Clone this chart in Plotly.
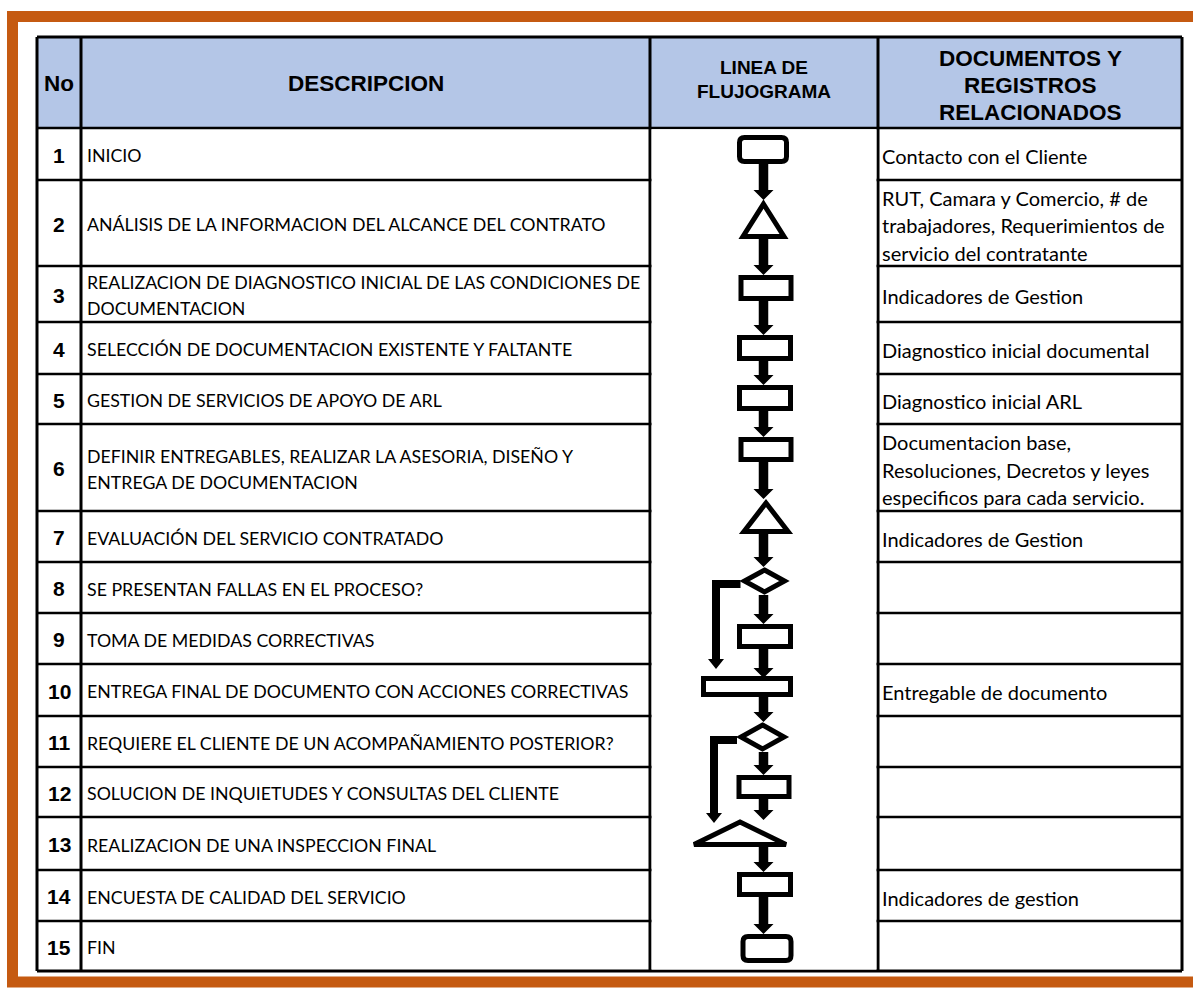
import plotly.graph_objects as go

# ---------------- DATA ----------------
step_numbers = [str(i) for i in range(1, 16)]

descriptions = [
    "INICIO",
    "ANÁLISIS DE LA INFORMACION DEL ALCANCE DEL CONTRATO",
    "REALIZACION DE DIAGNOSTICO INICIAL DE LAS CONDICIONES DE<br>DOCUMENTACION",
    "SELECCIÓN DE DOCUMENTACION EXISTENTE Y FALTANTE",
    "GESTION DE SERVICIOS DE APOYO DE ARL",
    "DEFINIR ENTREGABLES, REALIZAR LA ASESORIA, DISEÑO Y<br>ENTREGA DE DOCUMENTACION",
    "EVALUACIÓN DEL SERVICIO CONTRATADO",
    "SE PRESENTAN FALLAS EN EL PROCESO?",
    "TOMA DE MEDIDAS CORRECTIVAS",
    "ENTREGA FINAL DE DOCUMENTO CON ACCIONES CORRECTIVAS",
    "REQUIERE EL CLIENTE DE UN ACOMPAÑAMIENTO POSTERIOR?",
    "SOLUCION DE INQUIETUDES Y CONSULTAS DEL CLIENTE",
    "REALIZACION DE UNA INSPECCION FINAL",
    "ENCUESTA DE CALIDAD DEL SERVICIO",
    "FIN",
]

documents = [
    "Contacto con el Cliente",
    "RUT, Camara y Comercio, # de<br>trabajadores, Requerimientos de<br>servicio del contratante",
    "Indicadores de Gestion",
    "Diagnostico inicial documental",
    "Diagnostico inicial ARL",
    "Documentacion base,<br>Resoluciones, Decretos y leyes<br>especificos para cada servicio.",
    "Indicadores de Gestion",
    "",
    "",
    "Entregable de documento",
    "",
    "",
    "",
    "Indicadores de gestion",
    "",
]

flow_symbols = [
    "terminal", "triangle", "process", "process", "process", "process",
    "triangle", "decision", "process", "process", "decision", "process",
    "triangle", "process", "terminal",
]

# feedback loops: (from decision step, to step)
feedback_loops = [(8, 10), (11, 13)]

headers = ["No", "DESCRIPCION", "LINEA DE<br>FLUJOGRAMA",
           "DOCUMENTOS Y<br>REGISTROS<br>RELACIONADOS"]

# ---------------- LAYOUT (pixel geometry) ----------------
W, H = 1193, 992
col_edges = [37, 81, 650, 878, 1182]
table_top = 37
header_h = 91
row_heights = [52, 86, 56, 52, 50, 87, 51, 51, 51, 52, 51, 50, 53, 51, 50]

# flow symbol geometry per step: (top offset in row, height, width, center x)
node_geom = [
    (7, 29, 52, 763),
    (20, 39, 47, 763.5),
    (9, 26, 55, 766),
    (13, 26, 56, 765),
    (11, 26, 56, 765),
    (13, 25, 55, 766),
    (-12, 35, 50, 766),
    (5, 28, 46, 764.5),
    (11, 25, 56, 765),
    (12, 21, 92, 747),
    (6, 30, 49, 762.5),
    (8, 24, 55, 764),
    (1, 29, 98, 740),
    (2, 25, 56, 765),
    (13, 29, 53, 767),
]
arrow_x = 763.5
loop_x = [716, 714]
loop_bar_h = 8

ORANGE = "#C55A11"
HEADER_BG = "#B4C6E7"
BODY_FONT = "Lato"
HEAD_FONT = "Liberation Sans"

# header text styles: (font size, center y, line spacing)
head_style = [(22.5, 83.5, 27), (22.5, 83.5, 27), (19, 79, 24), (22.5, 85, 27)]
desc_size, desc_lh = 17.75, 26
docs_size, docs_lh = 20, 27.5
num_size = 21

# ---------------- BUILD ----------------
row_tops = []
y = table_top + header_h
for h in row_heights:
    row_tops.append(y)
    y += h
table_bottom = y

shapes = []
annotations = []


def add_lines(text, x, cy, lh, font, xanchor, bold=False):
    lines = text.split("<br>")
    n = len(lines)
    for j, ln in enumerate(lines):
        yy = cy + (j - (n - 1) / 2) * lh
        annotations.append(dict(x=x, y=yy, text=("<b>%s</b>" % ln) if bold else ln,
                                showarrow=False, xanchor=xanchor, yanchor="middle",
                                align=xanchor if xanchor != "center" else "center",
                                font=font))


# orange frame
shapes.append(dict(type="rect", x0=12.5, x1=1250, y0=16.5, y1=982,
                   line=dict(color=ORANGE, width=11), fillcolor="white",
                   layer="below"))

# header background
shapes.append(dict(type="rect", x0=col_edges[0], x1=col_edges[-1],
                   y0=table_top, y1=table_top + header_h,
                   line=dict(width=0), fillcolor=HEADER_BG, layer="below"))

# horizontal grid lines
h_lines = [table_top, table_top + header_h] + [t + h for t, h in zip(row_tops, row_heights)]
for yy in h_lines:
    shapes.append(dict(type="line", x0=col_edges[0], x1=col_edges[-1], y0=yy, y1=yy,
                       line=dict(color="black", width=3 if yy in (table_top, table_bottom) else 2.5)))
# vertical lines
for xx in col_edges:
    shapes.append(dict(type="line", x0=xx, x1=xx, y0=table_top, y1=table_bottom,
                       line=dict(color="black", width=3)))

# the flow column has no row separators -> white cover
shapes.append(dict(type="rect", x0=col_edges[2] + 1.6, x1=col_edges[3] - 1.6,
                   y0=table_top + header_h + 1.3, y1=table_bottom - 1.6,
                   line=dict(width=0), fillcolor="white"))

# headers
for i, txt in enumerate(headers):
    size, cy, lh = head_style[i]
    cx = (col_edges[i] + col_edges[i + 1]) / 2
    add_lines(txt, cx, cy, lh, dict(family=HEAD_FONT, size=size, color="black"),
              "center", bold=True)

# body rows
for i in range(len(step_numbers)):
    cy = row_tops[i] + row_heights[i] / 2
    add_lines(step_numbers[i], (col_edges[0] + col_edges[1]) / 2, cy + 1, 0,
              dict(family=HEAD_FONT, size=num_size, color="black"), "center", bold=True)
    add_lines(descriptions[i], col_edges[1] + 4, cy + 1, desc_lh,
              dict(family=BODY_FONT, size=desc_size, color="black"), "left")
    if documents[i]:
        add_lines(documents[i], col_edges[3] + 2, cy + 2, docs_lh,
                  dict(family=BODY_FONT, size=docs_size, color="black"), "left")

# flow symbols
SW = 5
nodes = []
for i, kind in enumerate(flow_symbols):
    off, h, w, cx = node_geom[i]
    top = row_tops[i] + off
    bot = top + h
    x0, x1 = cx - w / 2, cx + w / 2
    nodes.append((top, bot, cx, x0, x1))
    hs = SW / 2
    if kind == "process":
        shapes.append(dict(type="rect", x0=x0 + hs, x1=x1 - hs, y0=top + hs, y1=bot - hs,
                           line=dict(color="black", width=SW), fillcolor="white"))
    elif kind == "terminal":
        a0, a1, b0, b1 = x0 + hs, x1 - hs, top + hs, bot - hs
        r = 5
        p = (f"M{a0+r},{b0} L{a1-r},{b0} Q{a1},{b0} {a1},{b0+r} L{a1},{b1-r} "
             f"Q{a1},{b1} {a1-r},{b1} L{a0+r},{b1} Q{a0},{b1} {a0},{b1-r} "
             f"L{a0},{b0+r} Q{a0},{b0} {a0+r},{b0} Z")
        shapes.append(dict(type="path", path=p, line=dict(color="black", width=SW),
                           fillcolor="white"))
    elif kind == "triangle":
        p = f"M{cx},{top + 4} L{x1 - 3},{bot - hs} L{x0 + 3},{bot - hs} Z"
        shapes.append(dict(type="path", path=p, line=dict(color="black", width=SW),
                           fillcolor="white"))
    elif kind == "decision":
        cyd = (top + bot) / 2
        p = f"M{cx},{top + 3} L{x1 - 3},{cyd} L{cx},{bot - 3} L{x0 + 3},{cyd} Z"
        shapes.append(dict(type="path", path=p, line=dict(color="black", width=SW),
                           fillcolor="white"))


def arrow_path(x, y0, y1, shaft=9.5, hw=20, hh=10):
    return (f"M{x - shaft/2},{y0} L{x + shaft/2},{y0} L{x + shaft/2},{y1 - hh} "
            f"L{x + hw/2},{y1 - hh} L{x},{y1} L{x - hw/2},{y1 - hh} "
            f"L{x - shaft/2},{y1 - hh} Z")


# main arrows
for i in range(len(nodes) - 1):
    y0 = nodes[i][1]
    nxt = nodes[i + 1]
    y1 = nxt[0] + (2 if abs(nxt[2] - arrow_x) > 10 else 0)
    shapes.append(dict(type="path", path=arrow_path(arrow_x, y0, y1),
                       line=dict(width=0), fillcolor="black"))

# feedback loops
for k, (a, b) in enumerate(feedback_loops):
    top, bot, cx, x0, x1 = nodes[a - 1]
    cyd = (top + bot) / 2
    lx = loop_x[k]
    tip = nodes[b - 1][0] - (7 if flow_symbols[b - 1] == "process" else -5)
    bw = loop_bar_h
    hy0 = cyd - 1
    shapes.append(dict(type="rect", x0=lx - bw / 2, x1=x0 - 1, y0=hy0, y1=hy0 + bw,
                       line=dict(width=0), fillcolor="black"))
    shapes.append(dict(type="path", path=arrow_path(lx, hy0, tip, shaft=bw, hw=16, hh=10),
                       line=dict(width=0), fillcolor="black"))

fig = go.Figure()
fig.update_layout(
    width=W, height=H, margin=dict(l=0, r=0, t=0, b=0),
    paper_bgcolor="white", plot_bgcolor="white",
    xaxis=dict(range=[0, W], visible=False, fixedrange=True),
    yaxis=dict(range=[H, 0], visible=False, fixedrange=True),
    shapes=shapes, annotations=annotations, showlegend=False,
)
fig.write_html("out.html", post_script="document.body.style.margin='0';",
               config={"displayModeBar": False})
